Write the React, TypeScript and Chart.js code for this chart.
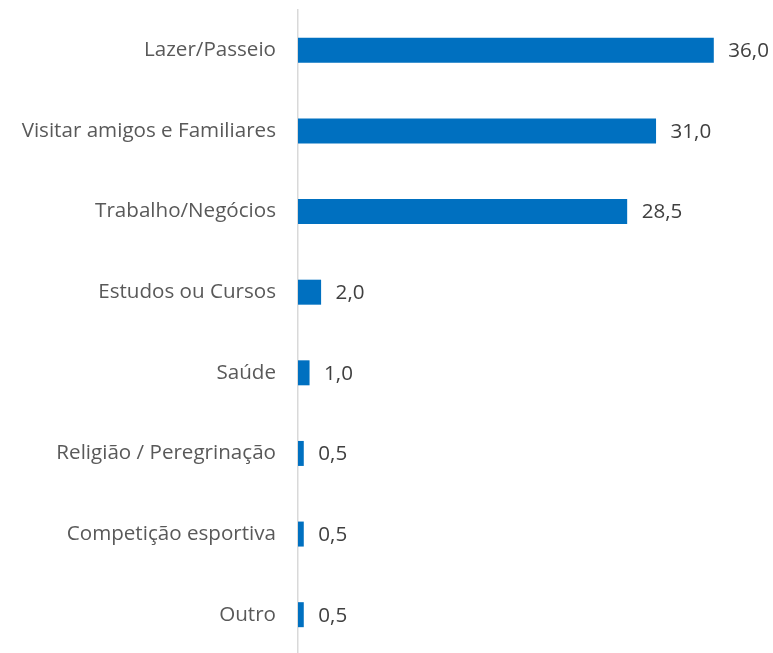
import React, { useEffect, useRef } from "react";
import { Chart, registerables } from "chart.js";

Chart.register(...registerables);

const categories = [
  "Lazer/Passeio",
  "Visitar amigos e Familiares",
  "Trabalho/Negócios",
  "Estudos ou Cursos",
  "Saúde",
  "Religião / Peregrinação",
  "Competição esportiva",
  "Outro",
];
const values = [36.0, 31.0, 28.5, 2.0, 1.0, 0.5, 0.5, 0.5];

const FONT = "'Open Sans'";
const SIZE = 20.6;
const LABEL_COLOR = "#595959";
const VALUE_COLOR = "#404040";

const valueLabels = {
  id: "valueLabels",
  afterDatasetsDraw(chart: any) {
    const ctx = chart.ctx;
    const meta = chart.getDatasetMeta(0);
    ctx.save();
    ctx.font = `${SIZE}px ${FONT}`;
    ctx.fillStyle = VALUE_COLOR;
    ctx.textAlign = "left";
    ctx.textBaseline = "middle";
    meta.data.forEach((bar: any, i: number) => {
      const txt = values[i].toFixed(1).replace(".", ",");
      ctx.fillText(txt, bar.x + 14.5, bar.y + 1);
    });
    ctx.restore();
  },
};

export default function App() {
  const ref = useRef<HTMLCanvasElement>(null);
  useEffect(() => {
    const chart = new Chart(ref.current!, {
      type: "bar",
      data: {
        labels: categories,
        datasets: [
          {
            data: values,
            backgroundColor: "#0070C0",
            categoryPercentage: 1,
            barPercentage: 0.31,
          },
        ],
      },
      options: {
        indexAxis: "y",
        animation: false,
        responsive: false,
        maintainAspectRatio: false,
        layout: { padding: { top: 10, bottom: 5, left: 0, right: 13 } },
        plugins: { legend: { display: false }, tooltip: { enabled: false } },
        scales: {
          x: {
            min: 0,
            max: 40,
            display: false,
          },
          y: {
            grid: { display: false, drawTicks: false },
            border: { display: true, color: "#d9d9d9", width: 1.5 },
            ticks: {
              color: LABEL_COLOR,
              font: { family: FONT, size: SIZE },
              padding: 22,
            },
            afterFit(scale: any) {
              scale.width = 298;
              scale.paddingTop = 0;
              scale.paddingBottom = 0;
            },
          },
        },
      },
      plugins: [valueLabels],
    });
    return () => chart.destroy();
  }, []);
  return (
    <div style={{ position: "absolute", left: 0, top: 0, width: 773, height: 653, overflow: "hidden", background: "#fff" }}>
      <canvas ref={ref} width={773} height={660} style={{ display: "block" }} />
    </div>
  );
}
